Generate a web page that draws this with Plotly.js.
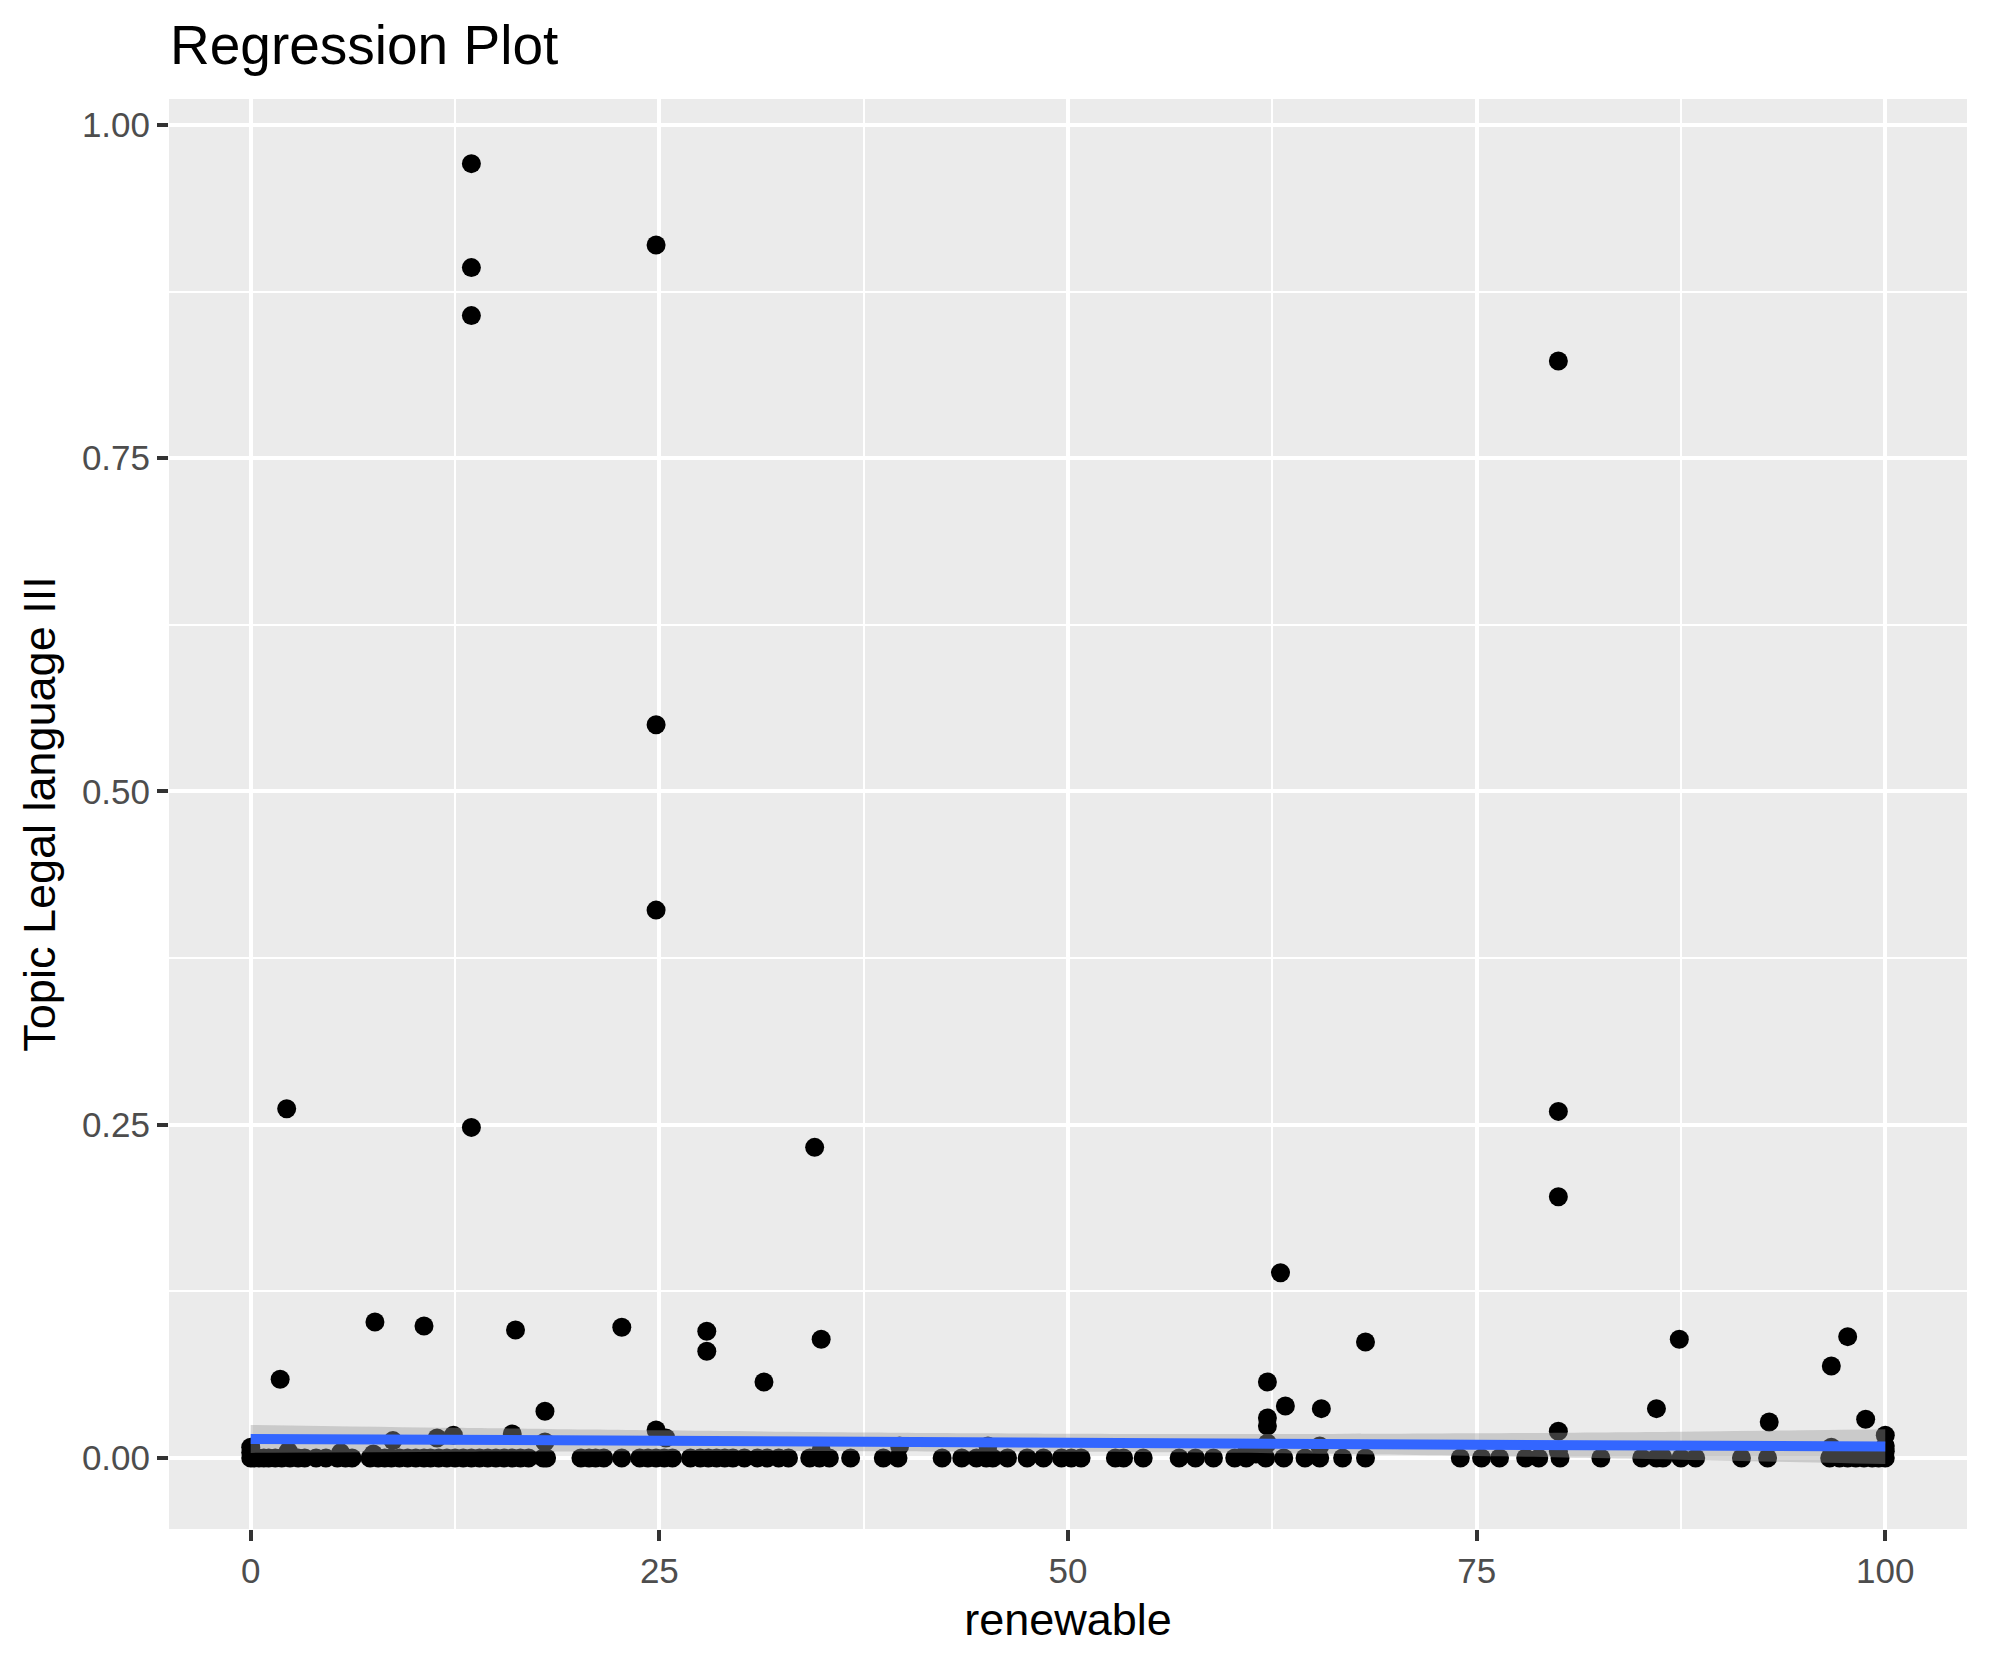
<!DOCTYPE html>
<html>
<head>
<meta charset="utf-8">
<script src="https://cdn.plot.ly/plotly-3.0.1.min.js"></script>
<style>html,body{margin:0;padding:0;background:#fff;}#chart{width:1990px;height:1665px;}</style>
</head>
<body>
<div id="chart"></div>
<script>
// Scatter points: renewable (x) and Topic Legal language III (y)
const pointsX = [
  13.5,13.5,13.5,24.8,24.8,24.8,80.0,2.2,13.5,34.5,80.0,80.0,63.0,7.6,10.6,16.2,22.7,27.9,27.9,34.9,
  68.2,87.4,97.7,96.7,1.8,31.4,62.2,18.0,63.3,65.5,86.0,62.2,62.2,98.8,92.9,80.0,24.8,100,16.0,12.4,
  8.7,11.4,25.4,18.0,80.0,62.2,65.4,34.9,39.7,45.1,100,100,0,0,96.7,2.3,5.5,7.5,60.9,61.5,86.3,
  0,0.2,0.5,0.8,1.1,1.5,1.9,2.4,2.9,3.3,4.0,4.6,5.3,5.8,6.2,7.3,7.8,8.2,8.6,9.1,9.6,10.1,10.6,11.0,
  11.5,12.0,12.5,13.0,13.5,14.0,14.5,15.0,15.5,16.0,16.5,17.0,17.9,18.1,20.2,20.7,21.1,21.6,22.7,
  23.8,24.3,24.8,25.3,25.8,26.9,27.5,28.0,28.5,29.0,29.5,30.2,31.0,31.6,32.3,32.9,34.2,34.8,35.4,
  36.7,38.7,39.6,42.3,43.5,44.4,45.0,45.4,46.3,47.5,48.5,49.6,50.2,50.8,52.9,53.4,54.6,56.8,57.8,
  58.9,60.2,60.9,62.1,63.2,64.5,65.4,66.8,68.2,74.0,75.3,76.4,78.0,78.8,80.1,82.6,85.1,86.0,86.4,
  87.5,88.4,91.2,92.8,96.6,97.2,97.7,98.2,98.7,99.2,99.6,100
];
const pointsY = [
  0.971,0.893,0.857,0.910,0.550,0.411,0.823,0.262,0.248,0.233,0.260,0.196,0.139,0.102,0.099,0.096,0.098,0.095,0.080,0.089,
  0.087,0.089,0.091,0.069,0.059,0.057,0.057,0.035,0.039,0.037,0.037,0.030,0.024,0.029,0.027,0.020,0.021,0.017,0.018,0.017,
  0.013,0.015,0.015,0.012,0.005,0.011,0.009,0.006,0.009,0.009,0.009,0.005,0.008,0.004,0.008,0.005,0.004,0.003,0.004,0.003,0.002,
  0,0,0,0,0,0,0,0,0,0,0,0,0,0,0,0,0,0,0,0,0,0,0,0,
  0,0,0,0,0,0,0,0,0,0,0,0,0,0,0,0,0,0,0,
  0,0,0,0,0,0,0,0,0,0,0,0,0,0,0,0,0,0,0,
  0,0,0,0,0,0,0,0,0,0,0,0,0,0,0,0,0,0,0,
  0,0,0,0,0,0,0,0,0,0,0,0,0,0,0,0,0,0,0,
  0,0,0,0,0,0,0,0,0,0,0,0
];

// Linear fit and its confidence band
const fitX = [0, 100];
const fitY = [0.0143, 0.0085];
const bandX = [0, 12.5, 25, 37.5, 50, 62.5, 75, 87.5, 100];
const bandUpper = [0.0248, 0.0226, 0.0207, 0.0191, 0.0182, 0.0179, 0.0185, 0.0197, 0.0215];
const bandLower = [0.0038, 0.0046, 0.0051, 0.0051, 0.0046, 0.0035, 0.0015, -0.0013, -0.0045];

const xTicks = [0, 25, 50, 75, 100];
const yTicks = [0, 0.25, 0.5, 0.75, 1.0];

const FONT = '"Liberation Sans", Arial, Helvetica, sans-serif';

const traces = [
  {
    type: 'scatter', mode: 'markers',
    x: pointsX, y: pointsY,
    marker: {color: '#000000', size: 19, line: {width: 0}},
    hoverinfo: 'skip', showlegend: false
  },
  {
    type: 'scatter', mode: 'lines',
    x: bandX, y: bandLower,
    line: {width: 0, shape: 'spline', smoothing: 0.8},
    hoverinfo: 'skip', showlegend: false
  },
  {
    type: 'scatter', mode: 'lines',
    x: bandX, y: bandUpper,
    fill: 'tonexty', fillcolor: 'rgba(153,153,153,0.4)',
    line: {width: 0, shape: 'spline', smoothing: 0.8},
    hoverinfo: 'skip', showlegend: false
  },
  {
    type: 'scatter', mode: 'lines',
    x: fitX, y: fitY,
    line: {color: '#3366FF', width: 10},
    hoverinfo: 'skip', showlegend: false
  }
];

const layout = {
  width: 1990, height: 1665,
  margin: {l: 169, r: 23, t: 99, b: 136, pad: 0},
  paper_bgcolor: '#FFFFFF',
  plot_bgcolor: '#EBEBEB',
  font: {family: FONT, color: '#000000'},
  showlegend: false,
  hovermode: false,
  title: {
    text: 'Regression Plot',
    font: {family: FONT, size: 55, color: '#000000'},
    xref: 'container', x: 170/1990, xanchor: 'left',
    yref: 'container', y: 1 - 64/1665, yanchor: 'bottom'
  },
  xaxis: {
    range: [-5, 105],
    tickvals: xTicks, ticktext: xTicks.map(String),
    ticks: 'outside', ticklen: 11, tickwidth: 4, tickcolor: '#333333',
    tickfont: {family: FONT, size: 35, color: '#4D4D4D'},
    showgrid: true, gridcolor: '#FFFFFF', gridwidth: 4,
    minor: {dtick: 12.5, tick0: 0, showgrid: true, gridcolor: '#FFFFFF', gridwidth: 2, ticks: ''},
    zeroline: false, showline: false,
    title: {text: 'renewable', font: {family: FONT, size: 45, color: '#000000'}, standoff: 14}
  },
  yaxis: {
    range: [-0.0533, 1.0195],
    tickvals: yTicks, tickformat: '.2f',
    ticks: 'outside', ticklen: 11, tickwidth: 4, tickcolor: '#333333',
    tickfont: {family: FONT, size: 35, color: '#4D4D4D'},
    showgrid: true, gridcolor: '#FFFFFF', gridwidth: 4,
    minor: {dtick: 0.125, tick0: 0, showgrid: true, gridcolor: '#FFFFFF', gridwidth: 2, ticks: ''},
    zeroline: false, showline: false,
    title: {text: 'Topic Legal language III', font: {family: FONT, size: 45, color: '#000000'}, standoff: 12}
  }
};

Plotly.newPlot('chart', traces, layout, {staticPlot: true, displayModeBar: false});
</script>
</body>
</html>
